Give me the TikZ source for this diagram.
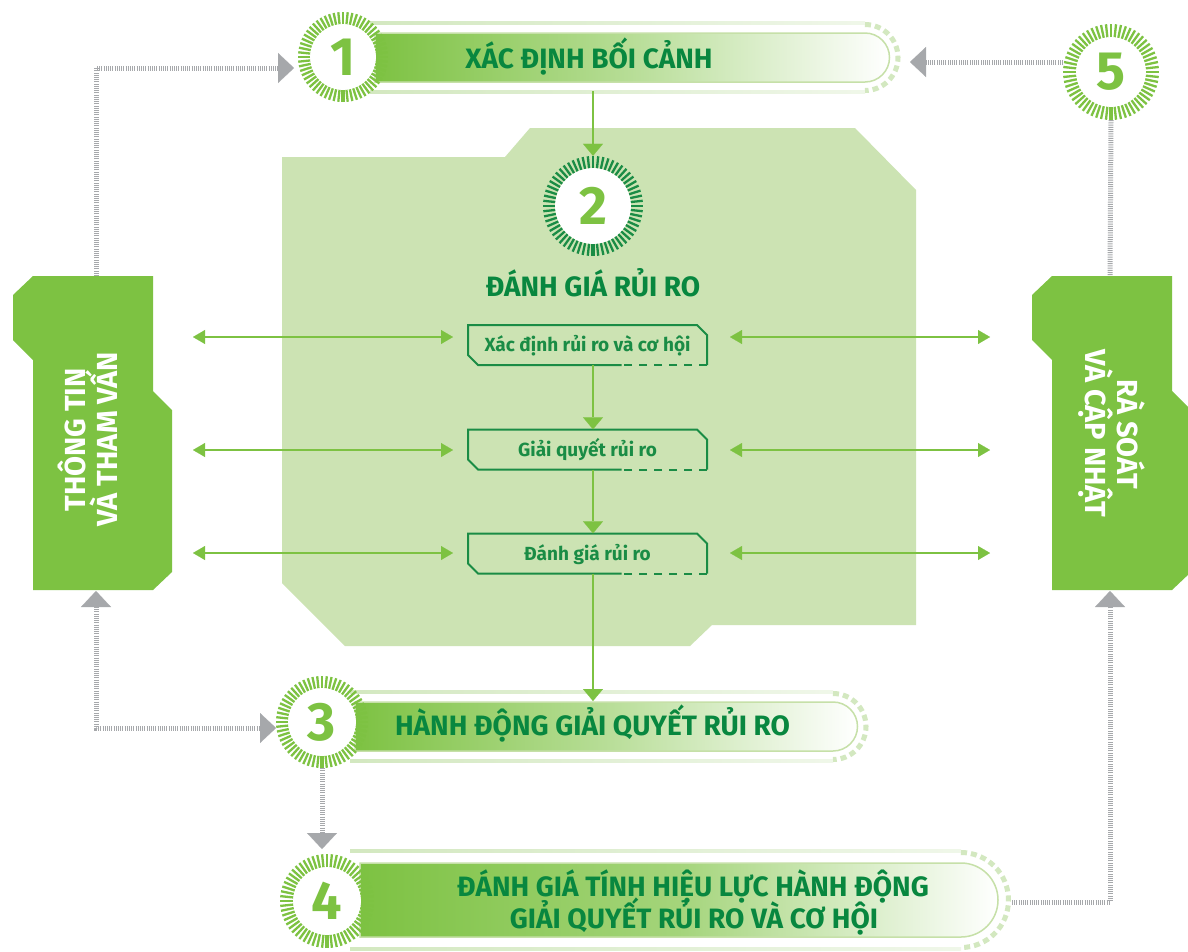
\documentclass[tikz,border=0pt]{standalone}
\usepackage{fontspec}
\setmainfont{Fira Sans}
\usetikzlibrary{arrows.meta}
\definecolor{G}{HTML}{7DC242}
\definecolor{DG}{HTML}{08873F}
\definecolor{BG}{HTML}{1A8C45}
\definecolor{LG}{HTML}{CCE3B3}
\definecolor{PG}{HTML}{D3E8C0}
\definecolor{LB}{HTML}{C6E0A8}
\definecolor{GR}{HTML}{A6A8AB}
\tikzset{
  gtip/.tip={Triangle[length=16pt,width=30pt,line width=0.1pt]},
  vtip/.tip={Triangle[length=12pt,width=20pt,line width=0.1pt]},
  htip/.tip={Triangle[length=12pt,width=14pt,line width=0.1pt]},
  bantext/.style={font=\bfseries\fontsize{28}{32}\selectfont, text=DG, inner sep=0pt},
  paneltext/.style={font=\bfseries\fontsize{29}{33}\selectfont, text=white, inner sep=0pt},
  boxtext/.style={font=\bfseries\fontsize{19}{22}\selectfont, text=BG, minimum width=239pt, minimum height=40pt, inner sep=0pt, text height=13.5pt, text depth=0pt},
  numnode/.style={circle, inner sep=0pt, text=G, font=\bfseries\fontsize{54}{54}\selectfont},
  garrow/.style={draw=G, line width=2.5pt, -vtip},
  harrow/.style={draw=G, line width=1.5pt, htip-htip},
  gline/.style={draw=GR, line width=5pt, dash pattern=on 1pt off 1.2pt}
}
\newcommand\myring[7]{%
  \fill[white] (#2,#3) circle[radius=#4];
  \begin{scope}[shift={(#2,#3)}]
    \foreach \a in {0,6,...,354}{\draw[#6,line width=2.3pt] (\a:#4) -- (\a:#5);}
    \draw[#6,line width=4.5pt] (90:#4) -- (90:#5);
  \end{scope}
  \node[numnode, minimum size=2*#5] (#1) at (#2,#3) {#7};
}
\newcommand\mybanner[8]{%
  \shade[left color=PG, right color=PG!35] (#7,#2-#5-1.2) rectangle (#8,#2-#5+1.2);
  \shade[left color=PG, right color=PG!35] (#7,#2+#5-1.2) rectangle (#8,#2+#5+1.2);
  \draw[PG, line width=5pt, dash pattern=on 6pt off 4pt] (#4,#2-#5+1.5) arc[start angle=-90, end angle=90, radius=#5-1.5];
  \path[left color=G, right color=white, middle color=G!#6, draw=LB, line width=1.5pt] (#1,#2-#3) -- (#4,#2-#3) arc[start angle=-90,end angle=90,radius=#3] -- (#1,#2+#3) -- cycle;
}
\newcommand\mybox[4]{%
  \node[boxtext] (#1) at (#2,#3) {#4};
  \begin{scope}[shift={(#2,#3)}]
    \draw[BG,line width=2pt] (34,20) -- (-109.5,20) -- (-119.5,10) -- (-119.5,-20) -- (109.5,-20) -- (119.5,-10) -- (119.5,20);
    \draw[BG,line width=2pt,dash pattern=on 8pt off 7pt] (119.5,20) -- (34,20);
  \end{scope}
}
\begin{document}
\begin{tikzpicture}[x=1pt,y=-1pt]
\useasboundingbox (0,0) rectangle (1188,951);
\fill[white] (0,0) rectangle (1188,951);
% central region
\fill[LG] (282,157) -- (505,157) -- (530,128) -- (855,128) -- (916,190) -- (916,625) -- (712,625) -- (690,646) -- (345,646) -- (282,583) -- cycle;
% side panels
\fill[G] (33,276) -- (153,276) -- (153,391) -- (172,410) -- (172,572) -- (153,590) -- (33,590) -- (33,360) -- (13,340) -- (13,295) -- cycle;
\fill[G] (1052,276) -- (1172,276) -- (1172,391) -- (1191,410) -- (1191,572) -- (1172,590) -- (1052,590) -- (1052,360) -- (1032,340) -- (1032,295) -- cycle;
\node[paneltext, rotate=90, anchor=base] (p1a) at (85,440) {THÔNG TIN};
\node[paneltext, rotate=90, anchor=base] (p1b) at (117,439) {VÀ THAM VẤN};
\node[paneltext, rotate=-90, anchor=base] (p5a) at (1117,434) {RÀ SOÁT};
\node[paneltext, rotate=-90, anchor=base] (p5b) at (1085,433) {VÀ CẬP NHẬT};
% banners
\mybanner{375}{57.5}{24.5}{865}{34.5}{55}{370}{865}
\mybanner{355}{726.5}{24.5}{833}{34.5}{55}{350}{833}
\mybanner{360}{900}{37}{961}{49}{70}{350}{961}
% rings
\myring{c1}{343}{57}{33}{45}{G}{1}
\myring{c2}{593}{206}{38}{50}{BG}{2}
\myring{c3}{322}{722}{34}{46}{G}{3}
\myring{c4}{327}{901}{34}{47}{G}{4}
\myring{c5}{1111}{72}{35}{48}{G}{5}
% boxes
\mybox{x1}{587.5}{345}{Xác định rủi ro và cơ hội}
\mybox{x2}{587.5}{449.5}{Giải quyết rủi ro}
\mybox{x3}{587.5}{553.5}{Đánh giá rủi ro}
% coordinates
\coordinate (p1n) at (96,276);
\coordinate (p1s) at (96,591);
\coordinate (p5n) at (1110,276);
\coordinate (p5s) at (1110,591);
\coordinate (a1) at (294,68);
\coordinate (a3) at (276,728);
\coordinate (a4) at (322,849);
\coordinate (a5) at (910,62);
\coordinate (c5w) at (1063,62);
\coordinate (b4e) at (1012,902);
\coordinate (b1s) at (593,91);
\coordinate (b3n) at (593,701);
% grey connectors
\draw[gline, -gtip] (p1n) |- (a1);
\draw[gline, gtip-gtip] (p1s) |- (a3);
\draw[gline, -gtip] (c5w) -- (a5);
\draw[gline] (c5.south) -- (p5n);
\draw[gline, -gtip] (b4e) -| (p5s);
\draw[gline, -gtip] (c3.south) -- (a4);
% green arrows
\draw[garrow] (b1s) -- (c2.north);
\draw[garrow] (x1.south -| c2) -- (x2.north -| c2);
\draw[garrow] (x2.south -| c2) -- (x3.north -| c2);
\draw[garrow] (x3.south -| c2) -- (b3n);
\foreach \n/\y in {1/337,2/450,3/553}{
  \coordinate (l\n) at (193,\y);
  \coordinate (le\n) at (453,\y);
  \coordinate (r\n) at (730,\y);
  \coordinate (re\n) at (990,\y);
  \draw[harrow] (l\n) -- (le\n);
  \draw[harrow] (r\n) -- (re\n);
}
% texts
\node[bantext, anchor=base] (t1) at (589,68) {XÁC ĐỊNH BỐI CẢNH};
\node[bantext, anchor=base] (t2) at (593,296) {ĐÁNH GIÁ RỦI RO};
\node[bantext, anchor=base] (t3) at (592.5,735) {HÀNH ĐỘNG GIẢI QUYẾT RỦI RO};
\node[bantext, anchor=base] (t4a) at (693,896) {ĐÁNH GIÁ TÍNH HIỆU LỰC HÀNH ĐỘNG};
\node[bantext, anchor=base] (t4b) at (694,928) {GIẢI QUYẾT RỦI RO VÀ CƠ HỘI};
\end{tikzpicture}
\end{document}
